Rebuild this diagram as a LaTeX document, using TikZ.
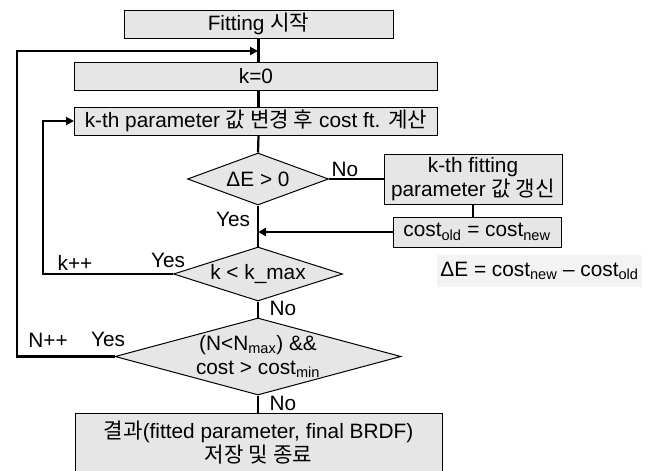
\documentclass[tikz,border=0pt]{standalone}
\usepackage{fontspec}
\setmainfont{Liberation Sans}
\newfontfamily\kr{Noto Sans CJK KR}[Scale=1.02]
\usetikzlibrary{shapes.geometric,arrows.meta}
\definecolor{boxfill}{HTML}{E6E6E6}
\definecolor{formfill}{HTML}{F3F3F3}
\begin{document}
\begin{tikzpicture}[x=1pt,y=-1pt,
  every node/.style={font=\fontsize{20.8}{24}\selectfont},
  procbox/.style={draw=black, line width=1pt, fill=boxfill, inner sep=0pt, align=center},
  decbox/.style={diamond, draw=black, line width=1pt, fill=boxfill, inner sep=0pt, align=center},
  conn/.style={line width=2.2pt, black},
  arr/.style={conn, -{Triangle[length=8pt,width=8pt]}},
  lbl/.style={inner sep=0pt}
]
\useasboundingbox (0,0) rectangle (653,471);
\node[procbox, minimum width=269pt, minimum height=28pt] (start) at (258.5,24) {Fitting {\kr 시작}};
\node[procbox, minimum width=363pt, minimum height=28pt] (k0) at (256,76) {k=0};
\node[procbox, minimum width=363pt, minimum height=28pt] (kth) at (256,121) {k-th parameter {\kr 값 변경 후} cost ft. {\kr 계산}};
\node[decbox, minimum width=141pt, minimum height=52pt, aspect=2.7] (d1) at (258,179) {ΔE > 0};
\node[procbox, minimum width=178pt, minimum height=50pt] (upd) at (473,179) {k-th fitting\\parameter {\kr 값 갱신}};
\node[procbox, minimum width=168pt, minimum height=30pt] (cst) at (477,232) {cost\textsubscript{old} = cost\textsubscript{new}};
\node[decbox, minimum width=169pt, minimum height=54pt, aspect=3.1] (d2) at (258,274) {k < k\_max};
\node[decbox, minimum width=286pt, minimum height=77pt, aspect=3.7] (d3) at (258,356.5) {(N<N\textsubscript{max}) \&\&\\cost > cost\textsubscript{min}};
\node[procbox, minimum width=367pt, minimum height=60pt] (fin) at (258.5,443) {{\kr 결과}(fitted parameter, final BRDF)\\{\kr 저장 및 종료}};
\node[fill=formfill, inner sep=0pt, minimum width=205pt, minimum height=32pt] (form) at (539.5,271) {ΔE = cost\textsubscript{new} – cost\textsubscript{old}};

\coordinate (jN) at (258,51);
\coordinate (lN) at (17,200);
\coordinate (lK) at (43,200);

\draw[conn] (start.south) -- (start.south |- k0.north);
\draw[conn] (start.south |- k0.south) -- (start.south |- kth.north);
\draw[conn] (start.south |- kth.south) -- (d1.north);
\draw[conn] (d1.south) -- (d2.north);
\draw[conn] (d2.south) -- (d3.north);
\draw[conn] (d3.south) -- (d3.south |- fin.north);
\draw[conn] (d1.east) -- (upd.west);
\draw[conn] (upd.south) -- (upd.south |- cst.north);
\draw[arr] (cst.west) -- (cst.west -| d1.south);
\draw[arr] (d2.west) -| (lK) |- (kth.west);
\draw[arr] (d3.west) -| (lN) |- (jN);

\node[lbl] at (345,169) {No};
\node[lbl] at (233,219) {Yes};
\node[lbl] at (168,260) {Yes};
\node[lbl] at (75,263) {k++};
\node[lbl] at (283,308) {No};
\node[lbl] at (48,340) {N++};
\node[lbl] at (108,339) {Yes};
\node[lbl] at (283,403) {No};
\end{tikzpicture}
\end{document}
